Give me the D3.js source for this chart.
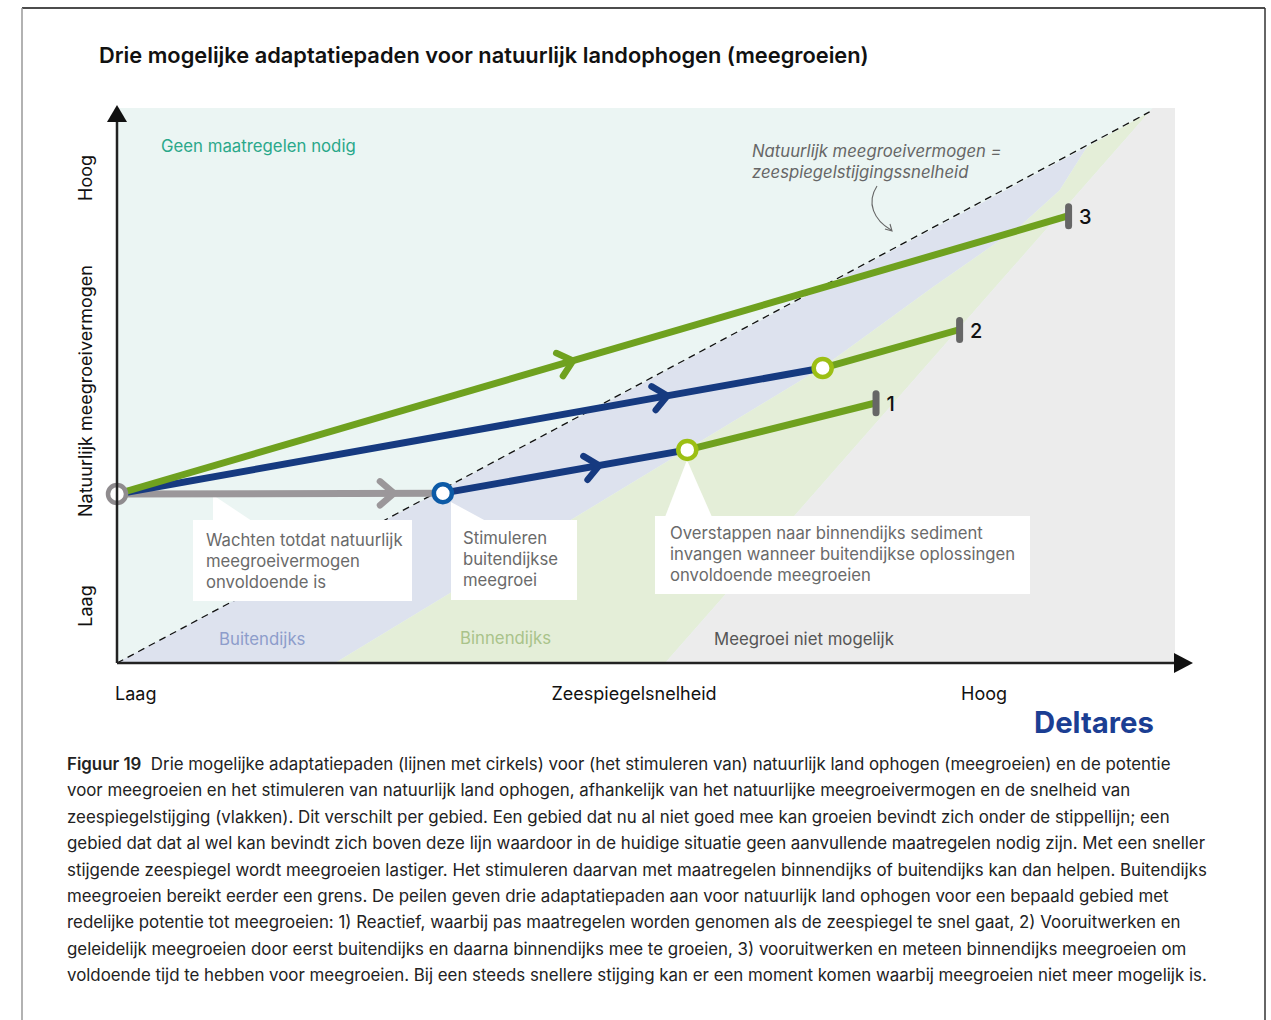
<!DOCTYPE html>
<html>
<head>
<meta charset="utf-8">
<script src="https://cdn.jsdelivr.net/npm/d3@7"></script>
<style>
  body { margin: 0; background: #fff; }
  svg { display: block; font-family: Inter, "Noto Sans", sans-serif; }
</style>
</head>
<body>
<script>
// ---- data (chart units: x = zeespiegelsnelheid 0-100, y = meegroeivermogen 0-100) ----
const titleText = "Drie mogelijke adaptatiepaden voor natuurlijk landophogen (meegroeien)";
const xTickLabels = ["Laag", "Zeespiegelsnelheid", "Hoog"];
const yTickLabels = ["Laag", "Natuurlijk meegroeivermogen", "Hoog"];

// equilibrium line (dashed)
const equilibrium = [[0, 0], [97.6, 99.3]];
// edge between buitendijks and binnendijks zones
const outerEdge = [[20.6, 0], [66.7, 53.3], [77.1, 67.7], [85.3, 78.6], [89.1, 85.2], [91.7, 93.0]];
// edge between binnendijks and "niet mogelijk"
const innerEdge = [[51.8, 0], [97.9, 100]];

const zoneNames = ["Geen maatregelen nodig", "Buitendijks", "Binnendijks", "Meegroei niet mogelijk"];

// pathway segments
const segments = [
  {path: 0, from: [0, 30.45], to: [30.8, 30.6], kind: "wait", arrowAt: 0.85},
  {path: 1, from: [30.8, 30.6], to: [53.9, 38.4], kind: "outer", arrowAt: 0.64},
  {path: 1, from: [53.9, 38.4], to: [71.6, 46.8], kind: "inner", arrowAt: null},
  {path: 2, from: [0, 30.45], to: [66.7, 53.15], kind: "outer", arrowAt: 0.78},
  {path: 2, from: [66.7, 53.15], to: [79.5, 60.0], kind: "inner", arrowAt: null},
  {path: 3, from: [0, 30.45], to: [89.8, 80.5], kind: "inner", arrowAt: 0.48}
];
const switchPoints = [
  {at: [0, 30.45], kind: "wait"},
  {at: [30.8, 30.6], kind: "outer"},
  {at: [53.9, 38.4], kind: "inner"},
  {at: [66.7, 53.15], kind: "inner"}
];
const endPoints = [
  {at: [71.6, 46.8], label: "1"},
  {at: [79.5, 60.0], label: "2"},
  {at: [89.8, 80.5], label: "3"}
];

const notes = [
  ["Wachten totdat natuurlijk", "meegroeivermogen", "onvoldoende is"],
  ["Stimuleren", "buitendijkse", "meegroei"],
  ["Overstappen naar binnendijks sediment", "invangen wanneer buitendijkse oplossingen", "onvoldoende meegroeien"]
];
const lineNote = ["Natuurlijk meegroeivermogen =", "zeespiegelstijgingssnelheid"];

const captionLines = [
  "Drie mogelijke adaptatiepaden (lijnen met cirkels) voor (het stimuleren van) natuurlijk land ophogen (meegroeien) en de potentie",
  "voor meegroeien en het stimuleren van natuurlijk land ophogen, afhankelijk van het natuurlijke meegroeivermogen en de snelheid van",
  "zeespiegelstijging (vlakken). Dit verschilt per gebied. Een gebied dat nu al niet goed mee kan groeien bevindt zich onder de stippellijn; een",
  "gebied dat dat al wel kan bevindt zich boven deze lijn waardoor in de huidige situatie geen aanvullende maatregelen nodig zijn. Met een sneller",
  "stijgende zeespiegel wordt meegroeien lastiger. Het stimuleren daarvan met maatregelen binnendijks of buitendijks kan dan helpen. Buitendijks",
  "meegroeien bereikt eerder een grens. De peilen geven drie adaptatiepaden aan voor natuurlijk land ophogen voor een bepaald gebied met",
  "redelijke potentie tot meegroeien: 1) Reactief, waarbij pas maatregelen worden genomen als de zeespiegel te snel gaat, 2) Vooruitwerken en",
  "geleidelijk meegroeien door eerst buitendijks en daarna binnendijks mee te groeien, 3) vooruitwerken en meteen binnendijks meegroeien om",
  "voldoende tijd te hebben voor meegroeien. Bij een steeds snellere stijging kan er een moment komen waarbij meegroeien niet meer mogelijk is."
];

// ---- styles ----
const colors = {
  teal: "#ebf5f3", outerZone: "#dde2ee", innerZone: "#e4eed8", grey: "#ececec",
  wait: "#9b979a", outer: "#163a80", inner: "#6fa11f",
  ringWait: "#8f8b8e", ringOuter: "#0c5aa6", ringInner: "#9cbf14"
};

const W = 1271, H = 1020;
const svg = d3.select("body").append("svg").attr("width", W).attr("height", H);

// frame
svg.append("line").attr("x1", 22).attr("y1", 8).attr("x2", 1265).attr("y2", 8).attr("stroke", "#111").attr("stroke-width", 1.5);
svg.append("line").attr("x1", 22).attr("y1", 8).attr("x2", 22).attr("y2", H).attr("stroke", "#999").attr("stroke-width", 1.5);
svg.append("line").attr("x1", 1265).attr("y1", 8).attr("x2", 1265).attr("y2", H).attr("stroke", "#333").attr("stroke-width", 1.5);

function fitText(sel, target) {
  const fs = parseFloat(sel.attr("font-size"));
  const w = sel.node().getComputedTextLength();
  sel.attr("font-size", (fs * target / w).toFixed(2));
}

// title
const title = svg.append("text").attr("x", 99).attr("y", 63).attr("font-size", 20)
  .attr("font-weight", 600).attr("fill", "#111").text(titleText);
fitText(title, 770);

const x = d3.scaleLinear().domain([0, 100]).range([117, 1175]);
const y = d3.scaleLinear().domain([0, 100]).range([663, 108]);
const pt = d => [x(d[0]), y(d[1])];
const poly = pts => "M" + pts.map(p => pt(p).join(",")).join("L") + "Z";

// zones
svg.append("rect").attr("x", x(0)).attr("y", y(100)).attr("width", x(100) - x(0)).attr("height", y(0) - y(100)).attr("fill", colors.teal);

const topJoin = outerEdge[outerEdge.length - 1];
svg.append("path").attr("fill", colors.outerZone)
  .attr("d", poly([[0, 0], ...outerEdge]));
svg.append("path").attr("fill", colors.innerZone)
  .attr("d", poly([innerEdge[0], innerEdge[1], equilibrium[1], topJoin, ...outerEdge.slice().reverse()]));
svg.append("path").attr("fill", colors.grey)
  .attr("d", poly([innerEdge[0], [100, 0], [100, 100], innerEdge[1]]));

// dashed equilibrium line
svg.append("line")
  .attr("x1", x(equilibrium[0][0])).attr("y1", y(equilibrium[0][1]))
  .attr("x2", x(equilibrium[1][0])).attr("y2", y(equilibrium[1][1]))
  .attr("stroke", "#111").attr("stroke-width", 1.3).attr("stroke-dasharray", "7,5");

// zone labels
const zoneLabelPos = [[161, 152, "#2aa88a"], [219, 645, "#8d9dcb"], [460, 644, "#a9c38a"], [714, 645, "#555"]];
zoneNames.forEach((n, i) => {
  svg.append("text").attr("x", zoneLabelPos[i][0]).attr("y", zoneLabelPos[i][1])
    .attr("font-size", 16.8).attr("fill", zoneLabelPos[i][2]).text(n);
});

// note on dashed line
lineNote.forEach((t, i) => {
  svg.append("text").attr("x", 752).attr("y", 157 + i * 21).attr("font-size", 16.7)
    .attr("font-style", "italic").attr("fill", "#666").text(t);
});
svg.append("path").attr("d", "M877,186 C866,203 874,220 891,230").attr("fill", "none")
  .attr("stroke", "#666").attr("stroke-width", 1.1);
svg.append("path").attr("d", "M885,229 L892,231 L890,224").attr("fill", "none")
  .attr("stroke", "#666").attr("stroke-width", 1.1);

// annotation boxes
const boxes = [
  {x: 193, y: 520, w: 219, h: 81, tri: [[213, 495], [213, 521], [252, 521]], tx: 206, ty: 546},
  {x: 451, y: 520, w: 126, h: 80, tri: [[451, 502], [451, 521], [486, 521]], tx: 463, ty: 544},
  {x: 655, y: 516, w: 375, h: 78, tri: [[687, 460], [665, 517], [712, 517]], tx: 670, ty: 539}
];
boxes.forEach((b, i) => {
  svg.append("path").attr("d", "M" + b.tri.map(p => p.join(",")).join("L") + "Z").attr("fill", "#fff");
  svg.append("rect").attr("x", b.x).attr("y", b.y).attr("width", b.w).attr("height", b.h).attr("fill", "#fff");
  notes[i].forEach((t, j) => {
    svg.append("text").attr("x", b.tx).attr("y", b.ty + j * 20.8).attr("font-size", 16.7)
      .attr("fill", "#6a6a6a").text(t);
  });
});

// pathway lines
const g = svg.append("g");
segments.forEach(s => {
  g.append("line")
    .attr("x1", x(s.from[0])).attr("y1", y(s.from[1]))
    .attr("x2", x(s.to[0])).attr("y2", y(s.to[1]))
    .attr("stroke", colors[s.kind]).attr("stroke-width", 7);
});
segments.filter(s => s.arrowAt != null).forEach(s => {
  const a = pt(s.from), b = pt(s.to);
  const px = a[0] + (b[0] - a[0]) * s.arrowAt, py = a[1] + (b[1] - a[1]) * s.arrowAt;
  const ang = Math.atan2(b[1] - a[1], b[0] - a[0]) * 180 / Math.PI;
  g.append("path").attr("d", "M-14,-12L0,0L-14,12")
    .attr("transform", `translate(${px},${py}) rotate(${ang})`)
    .attr("fill", "none").attr("stroke", colors[s.kind]).attr("stroke-width", 6.5)
    .attr("stroke-linecap", "round").attr("stroke-linejoin", "round");
});

// end markers
endPoints.forEach(e => {
  const [ex, ey] = pt(e.at);
  g.append("rect").attr("x", ex - 2).attr("y", ey - 13).attr("width", 7).attr("height", 26)
    .attr("rx", 3.5).attr("fill", "#666");
  g.append("text").attr("x", ex + 12).attr("y", ey + 8).attr("font-size", 20)
    .attr("font-weight", 500).attr("fill", "#111").text(e.label);
});

// switch circles
const ringColor = {wait: colors.ringWait, outer: colors.ringOuter, inner: colors.ringInner};
switchPoints.forEach(c => {
  g.append("circle").attr("cx", x(c.at[0])).attr("cy", y(c.at[1])).attr("r", 9)
    .attr("fill", "#fff").attr("stroke", ringColor[c.kind]).attr("stroke-width", 4.5);
});

// axes
svg.append("line").attr("x1", x(0)).attr("y1", y(0)).attr("x2", x(0)).attr("y2", 118)
  .attr("stroke", "#222").attr("stroke-width", 2.5);
svg.append("line").attr("x1", x(0)).attr("y1", y(0)).attr("x2", 1180).attr("y2", y(0))
  .attr("stroke", "#222").attr("stroke-width", 2.5);
svg.append("path").attr("d", `M${x(0)},105 L${x(0) - 10},122 L${x(0) + 10},122Z`).attr("fill", "#111");
svg.append("path").attr("d", `M1193,${y(0)} L1174,${y(0) - 10} L1174,${y(0) + 10}Z`).attr("fill", "#111");

// axis labels
const xLabelPos = [[115, "start"], [634, "middle"], [961, "start"]];
xTickLabels.forEach((t, i) => {
  svg.append("text").attr("x", xLabelPos[i][0]).attr("y", 700).attr("font-size", 18)
    .attr("text-anchor", xLabelPos[i][1]).attr("fill", "#111").text(t);
});
const yLabelPos = [606, 391, 178];
yTickLabels.forEach((t, i) => {
  svg.append("text").attr("transform", `translate(92,${yLabelPos[i]}) rotate(-90)`)
    .attr("font-size", 18).attr("text-anchor", "middle").attr("fill", "#111").text(t);
});

// logo
const logo = svg.append("text").attr("x", 1034).attr("y", 733).attr("font-size", 30)
  .attr("font-weight", 700).attr("fill", "#1b3e93").text("Deltares");
fitText(logo, 120);

// caption
const cap = svg.append("g");
const captionSize = 15.5;
captionLines.forEach((t, i) => {
  const tx = cap.append("text").attr("x", 67).attr("y", 770 + i * 26.4)
    .attr("font-size", captionSize).attr("fill", "#222");
  if (i === 0) {
    tx.append("tspan").attr("font-weight", 600).text("Figuur 19");
    tx.append("tspan").text("\u00a0 " + t);
  } else {
    tx.text(t);
  }
});
// scale caption font so that the last line spans like the original
const lastLine = cap.selectAll("text").nodes()[8];
const fs = captionSize * 1140 / lastLine.getComputedTextLength();
cap.selectAll("text").attr("font-size", fs.toFixed(2));
</script>
</body>
</html>
